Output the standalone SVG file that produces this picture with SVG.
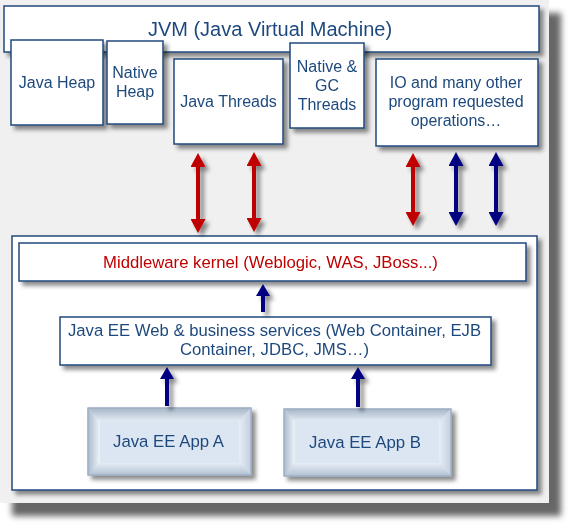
<svg xmlns="http://www.w3.org/2000/svg" width="574" height="528" viewBox="0 0 574 528">
<defs>
  <style>
    .box{fill:#ffffff;stroke:#1f497d;stroke-width:1.5}
    .t{font-family:"Liberation Sans",Arial,sans-serif;font-size:16px;fill:#1f497d;text-anchor:middle}
    .big{font-size:20px}
    .wide{font-size:16.7px}
    .app{font-size:16.8px}
    .red{fill:#c00000}
    .ar{stroke:#c00000;stroke-width:4;fill:none;marker-start:url(#hr);marker-end:url(#hr)}
    .ab{stroke:#000080;stroke-width:4;fill:none;marker-start:url(#hb);marker-end:url(#hb)}
    .au{stroke:#000080;stroke-width:4;fill:none;marker-end:url(#hb2)}
    .face{fill:#dce6f2}
  </style>
  <filter id="sh" x="-20%" y="-20%" width="150%" height="150%">
    <feDropShadow dx="4" dy="4" stdDeviation="2" flood-color="#000" flood-opacity="0.45"/>
  </filter>
  <filter id="psh" x="-10%" y="-10%" width="130%" height="130%">
    <feDropShadow dx="12" dy="13" stdDeviation="3" flood-color="#000" flood-opacity="0.6"/>
  </filter>
  <marker id="hr" viewBox="0 0 14 15" refX="0" refY="7.5" markerWidth="14" markerHeight="15" markerUnits="userSpaceOnUse" orient="auto-start-reverse">
    <path d="M0,0 L14,7.5 L0,15 z" fill="#c00000"/>
  </marker>
  <marker id="hb" viewBox="0 0 14 15" refX="0" refY="7.5" markerWidth="14" markerHeight="15" markerUnits="userSpaceOnUse" orient="auto-start-reverse">
    <path d="M0,0 L14,7.5 L0,15 z" fill="#000080"/>
  </marker>
  <marker id="hb2" viewBox="0 0 12 14" refX="0" refY="7" markerWidth="12" markerHeight="14" markerUnits="userSpaceOnUse" orient="auto">
    <path d="M0,0 L12,7 L0,14 z" fill="#000080"/>
  </marker>
  <linearGradient id="gTop" x1="0" y1="0" x2="0" y2="1">
    <stop offset="0" stop-color="#a9b8c9"/><stop offset="1" stop-color="#e3eaf3"/>
  </linearGradient>
  <linearGradient id="gLeft" x1="0" y1="0" x2="1" y2="0">
    <stop offset="0" stop-color="#aebdcf"/><stop offset="1" stop-color="#eef3f9"/>
  </linearGradient>
  <linearGradient id="gRight" x1="0" y1="0" x2="1" y2="0">
    <stop offset="0" stop-color="#e6edf5"/><stop offset="1" stop-color="#c3d0df"/>
  </linearGradient>
  <linearGradient id="gBot" x1="0" y1="0" x2="0" y2="1">
    <stop offset="0" stop-color="#e6edf5"/><stop offset="1" stop-color="#b4c3d4"/>
  </linearGradient>
</defs>

<rect width="574" height="528" fill="#ffffff"/>
<rect id="panel" x="0" y="0" width="549" height="503" fill="#f0f0f0" filter="url(#psh)"/>

<g id="jvm" filter="url(#sh)">
  <rect class="box" x="4" y="6" width="535" height="46"/>
  <text class="t big" x="270" y="36">JVM (Java Virtual Machine)</text>
</g>
<g id="java-heap" filter="url(#sh)">
  <rect class="box" x="11" y="40" width="92" height="85"/>
  <text class="t" x="57" y="88">Java Heap</text>
</g>
<g id="native-heap" filter="url(#sh)">
  <rect class="box" x="107" y="41" width="56" height="83"/>
  <text class="t" x="135" y="78">Native</text>
  <text class="t" x="135" y="97">Heap</text>
</g>
<g id="java-threads" filter="url(#sh)">
  <rect class="box" x="174" y="59" width="109" height="85"/>
  <text class="t" x="228.5" y="107">Java Threads</text>
</g>
<g id="native-gc-threads" filter="url(#sh)">
  <rect class="box" x="290" y="43" width="74" height="85"/>
  <text class="t" x="327" y="72">Native &amp;</text>
  <text class="t" x="327" y="91">GC</text>
  <text class="t" x="327" y="110">Threads</text>
</g>
<g id="io-ops" filter="url(#sh)">
  <rect class="box" x="376" y="59" width="162" height="87"/>
  <text class="t" x="456" y="88">IO and many other</text>
  <text class="t" x="456" y="107">program requested</text>
  <text class="t" x="456" y="126">operations…</text>
</g>

<g id="middleware-container" filter="url(#sh)">
  <rect class="box" x="12" y="236" width="525" height="254"/>
</g>
<g id="middleware-kernel" filter="url(#sh)">
  <rect class="box" x="19" y="243" width="507" height="38"/>
  <text class="t wide red" x="270.5" y="268">Middleware kernel (Weblogic, WAS, JBoss...)</text>
</g>
<g id="javaee-services" filter="url(#sh)">
  <rect class="box" x="60" y="317" width="431" height="48"/>
  <text class="t wide" x="274.5" y="336">Java EE Web &amp; business services (Web Container, EJB</text>
  <text class="t wide" x="274.5" y="355">Container, JDBC, JMS…)</text>
</g>
<g id="app-a" filter="url(#sh)">
  <rect x="88" y="408" width="163" height="67" fill="#c6d3e3" stroke="#98aac2" stroke-width="1"/>
  <polygon points="88.5,408.5 250.5,408.5 239,421 100,421" fill="url(#gTop)"/>
  <polygon points="88.5,408.5 100,421 100,463 88.5,474.5" fill="url(#gLeft)"/>
  <polygon points="250.5,408.5 250.5,474.5 239,463 239,421" fill="url(#gRight)"/>
  <polygon points="88.5,474.5 250.5,474.5 239,463 100,463" fill="url(#gBot)"/>
  <rect x="88" y="408" width="163" height="67" fill="none" stroke="#98aac2" stroke-width="1"/>
  <rect class="face" x="100" y="421" width="139" height="42"/>
  <text class="t app" x="168.5" y="447">Java EE App A</text>
</g>
<g id="app-b" filter="url(#sh)">
  <rect x="284" y="409" width="167" height="67" fill="#c6d3e3" stroke="#98aac2" stroke-width="1"/>
  <polygon points="284.5,409.5 450.5,409.5 439,421 295,421" fill="url(#gTop)"/>
  <polygon points="284.5,409.5 295,421 295,463 284.5,475.5" fill="url(#gLeft)"/>
  <polygon points="450.5,409.5 450.5,475.5 439,463 439,421" fill="url(#gRight)"/>
  <polygon points="284.5,475.5 450.5,475.5 439,463 295,463" fill="url(#gBot)"/>
  <rect x="284" y="409" width="167" height="67" fill="none" stroke="#98aac2" stroke-width="1"/>
  <rect class="face" x="295" y="421" width="144" height="42"/>
  <text class="t app" x="365" y="448">Java EE App B</text>
</g>

<g id="connectors" filter="url(#sh)">
  <line class="ar" x1="198" y1="167" x2="198" y2="219"/>
  <line class="ar" x1="254" y1="166" x2="254" y2="218"/>
  <line class="ar" x1="413" y1="167" x2="413" y2="212"/>
  <line class="ab" x1="456" y1="166" x2="456" y2="212"/>
  <line class="ab" x1="496" y1="166" x2="496" y2="212"/>
  <line class="au" x1="263" y1="312" x2="263" y2="296"/>
  <line class="au" x1="167" y1="406" x2="167" y2="379"/>
  <line class="au" x1="358" y1="407" x2="358" y2="379"/>
</g>
</svg>
